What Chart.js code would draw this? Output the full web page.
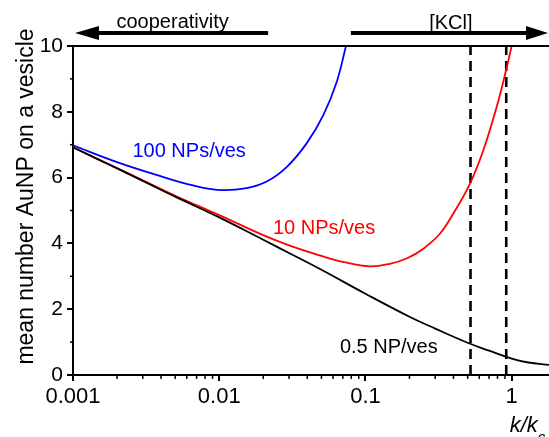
<!DOCTYPE html>
<html>
<head>
<meta charset="utf-8">
<script src="https://cdn.jsdelivr.net/npm/chart.js@4.4.1/dist/chart.umd.min.js"></script>
<style>
  html, body { margin: 0; padding: 0; background: #fff; }
  #wrap { width: 549px; height: 437px; }
</style>
</head>
<body>
<div id="wrap"><canvas id="lineChart" width="549" height="437"></canvas></div>
<script>
// values (x = k/kc, y = mean number of AuNP per vesicle)
var xBlack = [0.001, 0.002, 0.003, 0.005, 0.01, 0.02, 0.03, 0.05, 0.1, 0.2, 0.3, 0.5, 0.7, 1, 1.3, 1.8];
var yBlack = [6.92, 6.28, 5.9, 5.42, 4.79, 4.11, 3.71, 3.2, 2.47, 1.77, 1.41, 0.98, 0.74, 0.5, 0.38, 0.31];

var xRed = [0.001, 0.002, 0.003, 0.005, 0.01, 0.02, 0.03, 0.05, 0.07, 0.1074, 0.147, 0.191, 0.249, 0.324, 0.399, 0.519, 0.64, 0.79, 0.916, 1.0];
var yRed = [6.92, 6.29, 5.92, 5.45, 4.86, 4.25, 3.94, 3.62, 3.44, 3.30, 3.38, 3.54, 3.84, 4.30, 4.91, 5.82, 6.83, 8.15, 9.27, 10];

var xBlue = [0.001, 0.002, 0.00392, 0.00663, 0.0101, 0.0154, 0.0211, 0.0289, 0.0396, 0.0515, 0.0635, 0.0736];
var yBlue = [6.98, 6.47, 6.05, 5.76, 5.62, 5.68, 5.88, 6.32, 7.04, 7.9, 8.9, 10];

var dashedAt = [0.523, 0.918];
var xTicks = [0.001, 0.01, 0.1, 1];
var xLabels = ["0.001", "0.01", "0.1", "1"];
var xMin = 0.001, xMax = 1.8;
var yMin = 0, yMax = 10;

var curveLabels = [
  { text: "100 NPs/ves", x: 0.00255, y: 6.78, color: "#0000ff" },
  { text: "10 NPs/ves", x: 0.0233, y: 4.46, color: "#ff0000" },
  { text: "0.5 NP/ves", x: 0.0669, y: 0.84, color: "#000000" }
];

function pts(xs, ys) {
  return xs.map(function (v, i) { return { x: v, y: ys[i] }; });
}

Chart.defaults.font.family = "'Liberation Sans', Arial, sans-serif";
Chart.defaults.color = "#000";

var FONT = "'Liberation Sans', Arial, sans-serif";

var decor = {
  id: "decor",
  afterDraw: function (chart) {
    var ctx = chart.ctx, a = chart.chartArea;
    var x = chart.scales.x, y = chart.scales.y;
    ctx.save();
    ctx.strokeStyle = "#000";
    ctx.fillStyle = "#000";

    // top frame
    ctx.lineWidth = 2;
    ctx.beginPath();
    ctx.moveTo(a.left - 1, a.top);
    ctx.lineTo(a.right, a.top);
    ctx.stroke();

    // minor ticks
    ctx.lineWidth = 1.5;
    for (var d = 0.001; d < xMax; d *= 10) {
      for (var m = 2; m <= 9; m++) {
        var v = d * m;
        if (v > xMax) break;
        var px = x.getPixelForValue(v);
        ctx.beginPath();
        ctx.moveTo(px, a.bottom);
        ctx.lineTo(px, a.bottom + 4);
        ctx.stroke();
      }
    }
    for (var t = 1; t < yMax; t += 2) {
      var py = y.getPixelForValue(t);
      ctx.beginPath();
      ctx.moveTo(a.left - 3, py);
      ctx.lineTo(a.left, py);
      ctx.stroke();
    }

    // arrows above the plot
    var ay = a.top - 13;
    ctx.lineWidth = 4;
    var lTip = x.getPixelForValue(0.001) + 2;
    var lEnd = x.getPixelForValue(0.0216);
    ctx.beginPath();
    ctx.moveTo(lTip + 20, ay);
    ctx.lineTo(lEnd, ay);
    ctx.stroke();
    ctx.beginPath();
    ctx.moveTo(lTip, ay);
    ctx.lineTo(lTip + 24, ay - 7);
    ctx.lineTo(lTip + 24, ay + 7);
    ctx.closePath();
    ctx.fill();

    var rStart = x.getPixelForValue(0.0795);
    var rTip = a.right - 1;
    ctx.beginPath();
    ctx.moveTo(rStart, ay);
    ctx.lineTo(rTip - 20, ay);
    ctx.stroke();
    ctx.beginPath();
    ctx.moveTo(rTip, ay);
    ctx.lineTo(rTip - 22, ay - 7);
    ctx.lineTo(rTip - 22, ay + 7);
    ctx.closePath();
    ctx.fill();

    ctx.font = "20px " + FONT;
    ctx.textAlign = "center";
    ctx.textBaseline = "alphabetic";
    ctx.fillText("cooperativity", x.getPixelForValue(0.0048), a.top - 18);
    ctx.fillText("[KCl]", x.getPixelForValue(0.384), a.top - 17);

    // curve labels
    ctx.textAlign = "left";
    ctx.textBaseline = "middle";
    curveLabels.forEach(function (c) {
      ctx.fillStyle = c.color;
      ctx.fillText(c.text, x.getPixelForValue(c.x), y.getPixelForValue(c.y));
    });

    // axis titles
    ctx.fillStyle = "#000";
    ctx.textBaseline = "alphabetic";
    ctx.font = "italic 22px " + FONT;
    var tx = x.getPixelForValue(1) - 2;
    ctx.fillText("k/k", tx, 432);
    var w = ctx.measureText("k/k").width;
    ctx.font = "italic 15px " + FONT;
    ctx.fillText("c", tx + w, 442);

    ctx.save();
    ctx.translate(33, (a.top + a.bottom) / 2 - 14);
    ctx.rotate(-Math.PI / 2);
    ctx.font = "23px " + FONT;
    ctx.textAlign = "center";
    ctx.fillText("mean number AuNP on a vesicle", 0, 0);
    ctx.restore();

    ctx.restore();
  }
};

var ctx = document.getElementById("lineChart").getContext("2d");
var myChart = new Chart(ctx, {
  type: "line",
  data: {
    datasets: [
      { data: pts(xBlack, yBlack), borderColor: "#000000", borderWidth: 1.8 },
      { data: pts(xRed, yRed), borderColor: "#ff0000", borderWidth: 1.8 },
      { data: pts(xBlue, yBlue), borderColor: "#0000ff", borderWidth: 1.8 },
      {
        data: [{ x: dashedAt[0], y: yMin }, { x: dashedAt[0], y: yMax }],
        borderColor: "#000", borderWidth: 2.6, borderDash: [10, 6], tension: 0
      },
      {
        data: [{ x: dashedAt[1], y: yMin }, { x: dashedAt[1], y: yMax }],
        borderColor: "#000", borderWidth: 2.6, borderDash: [10, 6], tension: 0
      }
    ]
  },
  options: {
    responsive: false,
    animation: false,
    devicePixelRatio: 1,
    layout: { padding: { top: 46, left: 0, right: 0, bottom: 0 } },
    elements: {
      point: { radius: 0 },
      line: { tension: 0.4, fill: false }
    },
    plugins: { legend: { display: false }, tooltip: { enabled: false } },
    scales: {
      x: {
        type: "logarithmic",
        min: xMin,
        max: xMax,
        afterBuildTicks: function (s) {
          s.ticks = xTicks.map(function (v) { return { value: v }; });
        },
        afterFit: function (s) { s.height = 62; },
        ticks: {
          autoSkip: false,
          maxRotation: 0,
          padding: 3,
          font: { size: 22 },
          callback: function (v) {
            var i = xTicks.indexOf(v);
            return i >= 0 ? xLabels[i] : "";
          }
        },
        grid: { drawOnChartArea: false, color: "#000", lineWidth: 2, tickLength: 6 },
        border: { display: true, color: "#000", width: 2 }
      },
      y: {
        min: yMin,
        max: yMax,
        afterFit: function (s) { s.width = 73; },
        ticks: { stepSize: 2, padding: 4, font: { size: 21 } },
        grid: { drawOnChartArea: false, color: "#000", lineWidth: 2, tickLength: 6 },
        border: { display: true, color: "#000", width: 2 }
      }
    }
  },
  plugins: [decor]
});
</script>
</body>
</html>
